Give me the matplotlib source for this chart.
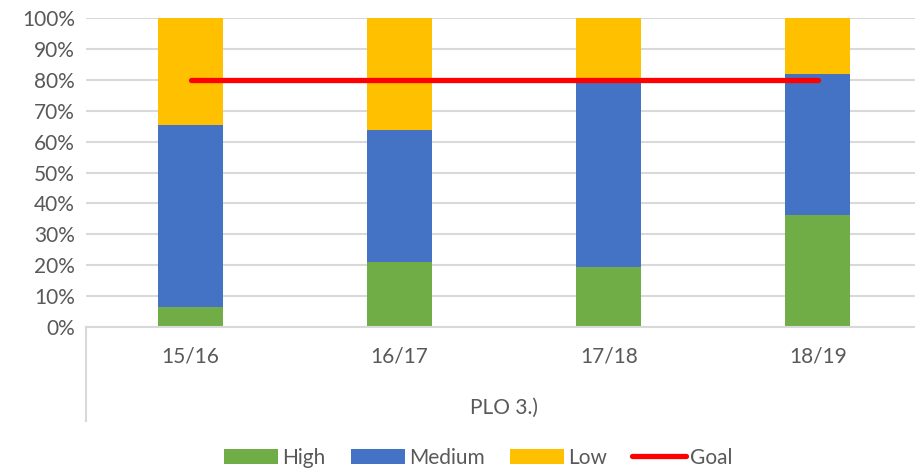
import matplotlib.pyplot as plt
from matplotlib.lines import Line2D

plt.rcParams['font.family'] = ['Lato', 'DejaVu Sans']

years = ['15/16', '16/17', '17/18', '18/19']
high = [6.5, 21.0, 19.5, 36.2]
medium = [58.9, 42.8, 60.3, 45.7]
low = [34.6, 36.2, 20.2, 18.1]
goal = [80, 80, 80, 80]
group_label = 'PLO 3.)'

c_high = '#70AD47'
c_med = '#4472C4'
c_low = '#FFC000'
c_goal = '#FF0000'
grey = '#595959'

fig = plt.figure(figsize=(9.15, 4.74), dpi=100)
ax = fig.add_axes([0.094, 0.310, 0.914, 0.652])

x = list(range(len(years)))
w = 0.31
bottom2 = [h + m for h, m in zip(high, medium)]
ax.bar(x, high, w, color=c_high, label='High', zorder=2)
ax.bar(x, medium, w, bottom=high, color=c_med, label='Medium', zorder=2)
ax.bar(x, low, w, bottom=bottom2, color=c_low, label='Low', zorder=2)
ax.plot(x, goal, color=c_goal, lw=3.8, solid_capstyle='round', label='Goal', zorder=3)

ax.set_xlim(-0.5, 3.5)
ax.set_ylim(0, 100)
ax.set_yticks(range(0, 101, 10))
ax.set_yticklabels([f'{v}%' for v in range(0, 101, 10)])
ax.yaxis.grid(True, color='#D9D9D9', lw=1.5, zorder=0)
ax.set_axisbelow(True)
for s in ['top', 'right', 'left']:
    ax.spines[s].set_visible(False)
ax.spines['bottom'].set_color('#D9D9D9')
ax.spines['bottom'].set_linewidth(1.5)
ax.tick_params(axis='y', length=0, labelsize=15, labelcolor=grey, pad=8)
ax.tick_params(axis='x', length=0, labelbottom=False)

# category labels and the group label underneath
for i, yr in enumerate(years):
    ax.text(i, -9.5, yr, ha='center', va='center', fontsize=15, color=grey,
            clip_on=False)
ax.text(1.5, -26, group_label, ha='center', va='center', fontsize=15, color=grey,
        clip_on=False)
ax.add_line(Line2D([-0.5, -0.5], [0, -30.5], color='#D9D9D9', lw=1.5, clip_on=False))

handles, labels = ax.get_legend_handles_labels()
order = [1, 2, 3, 0]
leg = fig.legend([handles[i] for i in order], [labels[i] for i in order],
                 loc='center', bbox_to_anchor=(0.523, 0.034), ncol=4, frameon=False,
                 fontsize=15, handlelength=2.6, handleheight=0.75, columnspacing=1.2,
                 handletextpad=0.2)
for t in leg.get_texts():
    t.set_color(grey)

fig.savefig('out.png', dpi=100)
